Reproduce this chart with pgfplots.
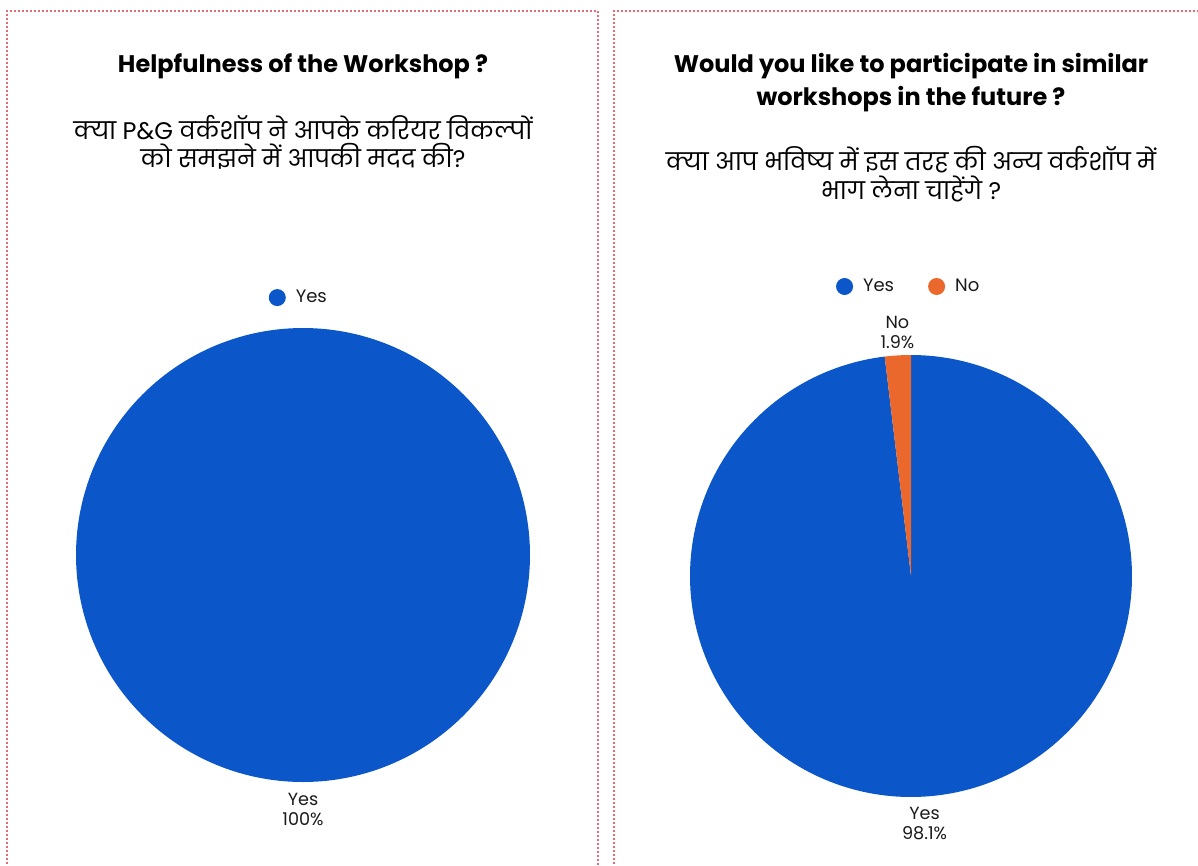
\documentclass[border=0pt]{standalone}
\usepackage{fontspec}
\setmainfont{Poppins}
\newfontfamily\hindi[Script=Devanagari]{Poppins}
\usepackage{pgfplots}
\pgfplotsset{compat=1.18}
\usepgfplotslibrary{polar}
\definecolor{pieblue}{RGB}{11,86,201}
\definecolor{pieorange}{RGB}{235,104,44}
\definecolor{bordred}{RGB}{235,105,115}
\definecolor{txt}{RGB}{26,26,26}
% data (percent)
\def\leftYes{100}
\def\rightYes{98.1}
\def\rightNo{1.9}
\begin{document}
\begin{tikzpicture}
\path[use as bounding box] (0,0) rectangle (599pt,-433pt);
\begin{scope}
\clip (0,0) rectangle (599pt,-433pt);
\draw[bordred, line width=1.2pt, dash pattern=on 1pt off 1pt] (3.5pt,-450pt) -- (3.5pt,-5.5pt) -- (299pt,-5.5pt) -- (299pt,-450pt);
\draw[bordred, line width=1.2pt, dash pattern=on 1pt off 1pt] (307pt,-450pt) -- (307pt,-5.5pt) -- (620pt,-5.5pt);
\end{scope}
% titles left
\node[anchor=base, font=\bfseries\fontsize{12}{14}\selectfont] at (151.5pt,-36.5pt) {Helpfulness of the Workshop ?};
\node[anchor=base, font=\hindi\fontsize{12}{14}\selectfont] at (151.5pt,-70pt) {क्या P\&G वर्कशॉप ने आपके करियर विकल्पों};
\node[anchor=base, font=\hindi\fontsize{12}{14}\selectfont] at (151.5pt,-84pt) {को समझने में आपकी मदद की?};
% titles right
\node[anchor=base, font=\bfseries\fontsize{12}{14}\selectfont] at (455.5pt,-36.5pt) {Would you like to participate in similar};
\node[anchor=base, font=\bfseries\fontsize{12}{14}\selectfont] at (455.5pt,-53pt) {workshops in the future ?};
\node[anchor=base, font=\hindi\fontsize{12}{14}\selectfont] at (455.5pt,-85.5pt) {क्या आप भविष्य में इस तरह की अन्य वर्कशॉप में};
\node[anchor=base, font=\hindi\fontsize{12}{14}\selectfont] at (455.5pt,-100pt) {भाग लेना चाहेंगे ?};

% left pie
\begin{polaraxis}[at={(151.5pt,-277.5pt)}, anchor=center,
  scale only axis, width=227pt, height=227pt,
  ymin=0, ymax=1, hide axis, clip=false,
  legend style={at={(0.493,1.067)}, anchor=center, draw=none, fill=none,
    font=\fontsize{9}{10}\selectfont\color{txt}, legend columns=-1,
    /tikz/every odd column/.append style={column sep=3pt},
    /tikz/every even column/.append style={column sep=8pt}},
  legend image code/.code={\fill[#1] (0pt,0pt) circle (4.25pt);}]
\addplot[fill=pieblue, draw=none, domain=90:{90-3.6*\leftYes}, samples=241] {1} -- cycle;
\addlegendentry{Yes}
\node[anchor=north, align=center, font=\fontsize{8.8}{10}\selectfont, text=txt, inner sep=0pt, yshift=-3pt] at (axis cs:270,1.02) {Yes\\100\%};
\end{polaraxis}

% right pie
\begin{polaraxis}[at={(455.5pt,-288pt)}, anchor=center,
  scale only axis, width=221pt, height=221pt,
  ymin=0, ymax=1, hide axis, clip=false,
  legend style={at={(0.497,1.155)}, anchor=center, draw=none, fill=none,
    font=\fontsize{9}{10}\selectfont\color{txt}, legend columns=-1,
    /tikz/every odd column/.append style={column sep=3pt},
    /tikz/every even column/.append style={column sep=15pt}},
  legend image code/.code={\fill[#1] (0pt,0pt) circle (4.25pt);}]
\addplot[fill=pieblue, draw=none, domain=90:{90-3.6*\rightYes}, samples=241] {1} -- (axis cs:0,0) -- cycle;
\addlegendentry{Yes}
\addplot[fill=pieorange, draw=none, domain={90-3.6*\rightYes}:{90-3.6*\rightYes-3.6*\rightNo}, samples=11] {1} -- (axis cs:0,0) -- cycle;
\addlegendentry{No}
\node[anchor=north, align=center, font=\fontsize{8.8}{10}\selectfont, text=txt, inner sep=0pt, yshift=-2pt] at (axis cs:{90-1.8*\rightYes},1.03) {Yes\\98.1\%};
\node[anchor=south, align=center, font=\fontsize{8.8}{10}\selectfont, text=txt, inner sep=0pt] at (axis cs:{90+1.8*\rightNo},1.03) {No\\1.9\%};
\end{polaraxis}
\end{tikzpicture}
\end{document}
